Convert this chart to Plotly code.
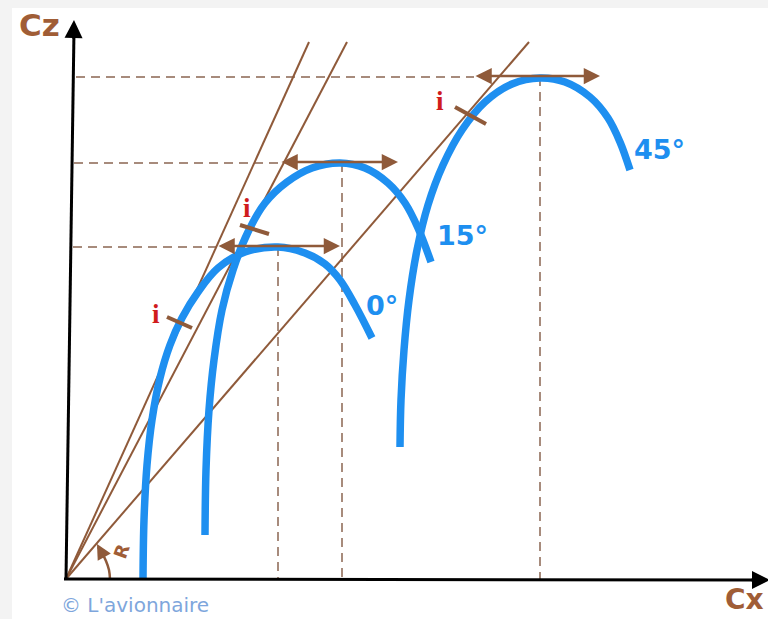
import plotly.graph_objects as go

# Drawing units: Cx to the right, Cz on a reversed axis
origin = (66, 579)

# Polar curves (Cx, Cz) for each configuration
polar_0_cx = [143, 144, 147, 152, 160, 170, 182, 198, 218, 245, 278, 305, 325, 340, 355, 372]
polar_0_cz = [579, 520, 465, 420, 378, 345, 318, 292, 268, 252, 247, 253, 264, 280, 305, 338]

polar_15_cx = [205, 206, 209, 214, 222, 233, 248, 265, 287, 312, 340, 365, 388, 405, 418, 431]
polar_15_cz = [535, 470, 410, 360, 310, 270, 232, 203, 182, 168, 163, 168, 183, 203, 228, 262]

polar_45_cx = [400, 401, 404, 409, 417, 428, 443, 462, 485, 512, 540, 565, 590, 608, 620, 630]
polar_45_cz = [447, 400, 350, 300, 250, 205, 165, 130, 102, 84, 78, 82, 97, 118, 142, 170]

curve_labels = ["0°", "15°", "45°"]
curve_label_pos = [(382, 305), (462, 235), (659, 149)]

# Tangent lines from origin: upper end points
tangent_ends = [(309, 42), (347, 42), (529, 42)]

# Max-Cz levels (horizontal dashed) and their Cx positions (vertical dashed)
peak_cz = [247, 163, 77]
peak_cx = [278, 342, 540]
dash_h_start = [73, 74, 76]
arrow_left = [217, 280, 474]
arrow_right = [340, 398, 600]

# "i" markers (incidence of best finesse)
i_ticks = [((167, 317), (192, 328)), ((240, 225), (269, 234)), ((455, 107), (486, 124))]
i_text_pos = [(156, 314), (247, 208), (440, 101)]

# Angle arc "R"
arc_cx = [110, 109, 106, 102, 98]
arc_cz = [579, 570, 561, 553, 547]

BLUE = "#1e8ff0"
BROWN = "#8f5a3a"
BROWN_TXT = "#a05d36"
DASH = "#8a6652"
RED = "#d01c1c"
FONT = "DejaVu Sans, Verdana, sans-serif"

fig = go.Figure()

# white canvas on grey page
fig.add_shape(type="rect", x0=12, x1=768, y0=8, y1=619, fillcolor="white",
              line_width=0, layer="below")

# dashed reference lines
for y, x0, xr in zip(peak_cz, dash_h_start, arrow_left):
    fig.add_trace(go.Scatter(x=[x0, xr], y=[y, y], mode="lines",
                             line=dict(color=DASH, width=1.5, dash="9px,6px"),
                             hoverinfo="skip", showlegend=False))
for x, y in zip(peak_cx, peak_cz):
    fig.add_trace(go.Scatter(x=[x, x], y=[y, origin[1]], mode="lines",
                             line=dict(color=DASH, width=1.5, dash="9px,6px"),
                             hoverinfo="skip", showlegend=False))

# tangent lines
for (xe, ye) in tangent_ends:
    fig.add_trace(go.Scatter(x=[origin[0], xe], y=[origin[1], ye], mode="lines",
                             line=dict(color=BROWN, width=2),
                             hoverinfo="skip", showlegend=False))

# polar curves
for cx, cz in [(polar_0_cx, polar_0_cz), (polar_15_cx, polar_15_cz), (polar_45_cx, polar_45_cz)]:
    fig.add_trace(go.Scatter(x=cx, y=cz, mode="lines",
                             line=dict(color=BLUE, width=7.5, shape="spline", smoothing=1.0),
                             hoverinfo="skip", showlegend=False))

# i ticks
for (a, b) in i_ticks:
    fig.add_trace(go.Scatter(x=[a[0], b[0]], y=[a[1], b[1]], mode="lines",
                             line=dict(color=BROWN, width=4),
                             hoverinfo="skip", showlegend=False))

# arc R
fig.add_trace(go.Scatter(x=arc_cx, y=arc_cz, mode="lines",
                         line=dict(color=BROWN, width=2.5, shape="spline"),
                         hoverinfo="skip", showlegend=False))

# axes
fig.add_trace(go.Scatter(x=[origin[0], 74], y=[origin[1], 30], mode="lines",
                         line=dict(color="black", width=3), hoverinfo="skip", showlegend=False))
fig.add_trace(go.Scatter(x=[origin[0] - 2, 760], y=[origin[1], 580], mode="lines",
                         line=dict(color="black", width=3), hoverinfo="skip", showlegend=False))

ann = []
# axis arrowheads
ann.append(dict(x=74, y=20, ax=73.5, ay=40, xref="x", yref="y", axref="x", ayref="y",
                showarrow=True, arrowhead=2, arrowsize=1.2, arrowwidth=3, arrowcolor="black", text=""))
ann.append(dict(x=770, y=580, ax=750, ay=580, xref="x", yref="y", axref="x", ayref="y",
                showarrow=True, arrowhead=2, arrowsize=1.2, arrowwidth=3, arrowcolor="black", text=""))
# double arrows at the max Cz
for y, xl, xr in zip(peak_cz, arrow_left, arrow_right):
    ann.append(dict(x=xr, y=y - 1, ax=xl, ay=y - 1, xref="x", yref="y", axref="x", ayref="y",
                    showarrow=True, arrowhead=2, startarrowhead=2, arrowside="end+start",
                    arrowsize=1.3, startarrowsize=1.3, arrowwidth=2.5, arrowcolor=BROWN, text=""))
# arc arrowhead
ann.append(dict(x=arc_cx[-1] - 1, y=arc_cz[-1] - 3, ax=arc_cx[-2], ay=arc_cz[-2],
                xref="x", yref="y", axref="x", ayref="y", showarrow=True, arrowhead=2,
                arrowsize=1.2, arrowwidth=2.5, arrowcolor=BROWN, text=""))

# curve labels
for t, (x, y) in zip(curve_labels, curve_label_pos):
    ann.append(dict(x=x, y=y, text=f"<b>{t}</b>", showarrow=False, xref="x", yref="y",
                    font=dict(family=FONT, size=27, color=BLUE)))
# i labels
for (x, y) in i_text_pos:
    ann.append(dict(x=x, y=y, text="<b>i</b>", showarrow=False, xref="x", yref="y",
                    font=dict(family="Liberation Serif, serif", size=27, color=RED)))
# axis labels
ann.append(dict(x=39, y=25, text="<b>Cz</b>", showarrow=False, xref="x", yref="y",
                font=dict(family=FONT, size=31, color=BROWN_TXT)))
ann.append(dict(x=766, y=599, text="<b>Cx</b>", showarrow=False, xref="x", yref="y",
                xanchor="right", font=dict(family=FONT, size=28, color=BROWN_TXT)))
ann.append(dict(x=121, y=551, text="<b>R</b>", showarrow=False, xref="x", yref="y",
                textangle=-70, font=dict(family=FONT, size=18, color=BROWN_TXT)))
ann.append(dict(x=59, y=605, text="© L'avionnaire", showarrow=False, xref="x", yref="y",
                xanchor="left", font=dict(family=FONT, size=20, color="#7ea6dc")))

fig.update_layout(
    width=768, height=619, margin=dict(l=0, r=0, t=0, b=0),
    paper_bgcolor="#f3f3f3", plot_bgcolor="rgba(0,0,0,0)",
    xaxis=dict(range=[0, 768], visible=False, fixedrange=True),
    yaxis=dict(range=[619, 0], visible=False, fixedrange=True),
    annotations=ann, showlegend=False,
)

fig.write_html(
    "out.html",
    config={"displayModeBar": False},
    post_script="document.body.style.margin='0';document.body.style.overflow='hidden';"
                "document.body.style.background='#f3f3f3';",
)
